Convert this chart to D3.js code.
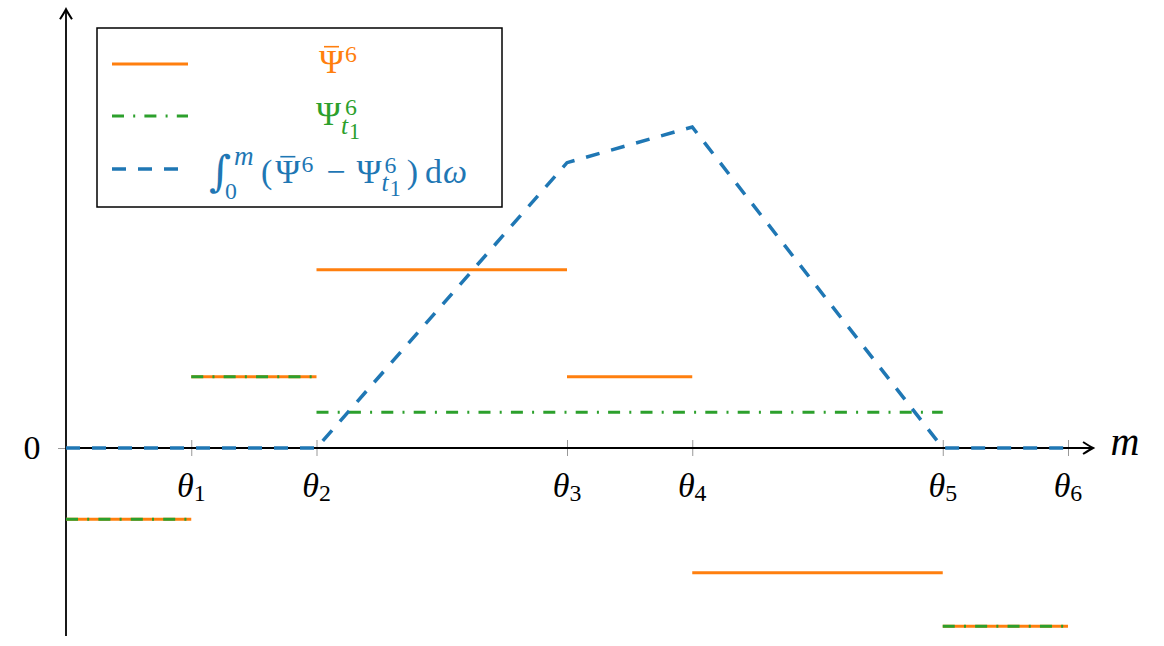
<!DOCTYPE html>
<html>
<head>
<meta charset="utf-8">
<script src="https://cdn.jsdelivr.net/npm/d3@7"></script>
<style>
  body { margin: 0; background: #fff; }
  svg { display: block; }
</style>
</head>
<body>
<div id="chart"></div>
<script>
// step functions (one level per interval between breaks)
var psiBarBreaks = [0, 1, 2, 4, 5, 7, 8];
var psiBar = [-2, 2, 5, 2, -3.5, -5];
var psiT1Breaks = [0, 1, 2, 7, 8];
var psiT1 = [-2, 2, 1, -5];
// integral of the difference
var intX = [0, 1, 2, 4, 5, 7, 8];
var intY = [0, 0, 0, 8, 9, 0, 0];
// ticks
var thetaPos = [1, 2, 4, 5, 7, 8];
var thetaIdx = ["1", "2", "3", "4", "5", "6"];
var yTicks = [0];

var colors = { bar: "#ff7f0e", t1: "#2ca02c", integral: "#1f77b4" };
var FONT = "Liberation Serif";
var FS = 34;
var dashDot = "12,9.2,2,9.2";
var dashed = "14,12";

var w = 1164, h = 646;
var svg = d3.select("#chart").append("svg")
  .attr("width", w)
  .attr("height", h);

//SCALES
var x = d3.scaleLinear().domain([0, 8]).range([66, 1068]);
var y = d3.scaleLinear().domain([0, 9]).range([448, 127]);
var xEnd = 8.2, yTop = 12.3, yBottom = -5.27;

// math-ish text built from tspans, centred on cx with baseline by
function mathLabel(parent, cx, by, pieces, color, size) {
  var g = parent.append("g");
  var t = g.append("text")
    .attr("x", 0).attr("y", 0)
    .attr("fill", color)
    .attr("font-family", FONT)
    .attr("font-size", size);
  var cur = 0, prev = null, idx = 0, bars = [];
  pieces.forEach(function(p) {
    var up = p.up || 0;
    var s = t.append("tspan").text(p.t)
      .attr("font-size", (p.s || 1) * size)
      .attr("font-style", p.i ? "italic" : "normal")
      .attr("dy", cur - up);
    if (p.f) s.attr("font-family", p.f);
    cur = up;
    var dx = p.dx || 0;
    if (p.back && prev) dx -= prev.node().getComputedTextLength();
    if (dx) s.attr("dx", dx);
    if (p.bar) bars.push(idx);
    idx += p.t.length;
    prev = s;
  });
  // bars over letters (macron)
  bars.forEach(function(i) {
    var e = t.node().getExtentOfChar(i);
    g.append("line")
      .attr("x1", e.x + e.width * 0.2).attr("x2", e.x + e.width * 0.8)
      .attr("y1", e.y + e.height * 0.1).attr("y2", e.y + e.height * 0.1)
      .attr("stroke", color).attr("stroke-width", 1.6);
  });
  var bb = g.node().getBBox();
  g.attr("transform", "translate(" + (cx - bb.x - bb.width / 2) + "," + by + ")");
  return g;
}

//AXES
var xAxis = d3.axisBottom(x).tickValues(thetaPos).tickSize(8).tickFormat("");
var gx = svg.append("g")
  .attr("transform", "translate(0," + y(0) + ")")
  .call(xAxis);
gx.select(".domain").remove();
gx.selectAll(".tick line").attr("y1", -8).attr("y2", 8)
  .attr("stroke", "#999").attr("stroke-width", 1);

var yAxis = d3.axisLeft(y).tickValues(yTicks).tickSize(8).tickFormat("");
var gy = svg.append("g")
  .attr("transform", "translate(" + x(0) + ",0)")
  .call(yAxis);
gy.select(".domain").remove();
gy.selectAll(".tick line").attr("stroke", "#999").attr("stroke-width", 1);

// axis lines with arrows
svg.append("line")
  .attr("x1", x(0)).attr("x2", x(xEnd) - 1)
  .attr("y1", y(0)).attr("y2", y(0))
  .attr("stroke", "black").attr("stroke-width", 1.8);
svg.append("line")
  .attr("x1", x(0)).attr("x2", x(0))
  .attr("y1", y(yBottom)).attr("y2", y(yTop) + 1)
  .attr("stroke", "black").attr("stroke-width", 1.8);

var arrow = "M-10,-6 Q-3,-1.5 0,0 Q-3,1.5 -10,6";
svg.append("path").attr("d", arrow)
  .attr("transform", "translate(" + x(xEnd) + "," + y(0) + ")")
  .attr("fill", "none").attr("stroke", "black").attr("stroke-width", 2);
svg.append("path").attr("d", arrow)
  .attr("transform", "translate(" + x(0) + "," + y(yTop) + ") rotate(-90)")
  .attr("fill", "none").attr("stroke", "black").attr("stroke-width", 2);

// tick labels
thetaPos.forEach(function(v, i) {
  mathLabel(svg, x(v), 497, [
    { t: "\u03b8", i: true },
    { t: thetaIdx[i], s: 0.7, up: -4 }
  ], "black", FS);
});
yTicks.forEach(function(v) {
  mathLabel(svg, 32, y(v) + 11, [{ t: String(v) }], "black", FS);
});
mathLabel(svg, 1125, 455, [{ t: "m", i: true }], "black", 40);

//STEP SEGMENTS
function segments(breaks, vals) {
  return vals.map(function(v, i) { return { x0: breaks[i], x1: breaks[i + 1], v: v }; });
}

svg.append("g").selectAll("line")
  .data(segments(psiBarBreaks, psiBar))
  .enter().append("line")
  .attr("x1", function(d) { return x(d.x0); })
  .attr("x2", function(d) { return x(d.x1); })
  .attr("y1", function(d) { return y(d.v); })
  .attr("y2", function(d) { return y(d.v); })
  .attr("stroke", colors.bar)
  .attr("stroke-width", 3);

svg.append("g").selectAll("line")
  .data(segments(psiT1Breaks, psiT1))
  .enter().append("line")
  .attr("x1", function(d) { return x(d.x0); })
  .attr("x2", function(d) { return x(d.x1); })
  .attr("y1", function(d) { return y(d.v); })
  .attr("y2", function(d) { return y(d.v); })
  .attr("stroke", colors.t1)
  .attr("stroke-width", 3)
  .attr("stroke-dasharray", dashDot);

// integral line
var line = d3.line()
  .x(function(d) { return x(d[0]); })
  .y(function(d) { return y(d[1]); });
svg.append("path")
  .datum(intX.map(function(v, i) { return [v, intY[i]]; }))
  .attr("d", line)
  .attr("fill", "none")
  .attr("stroke", colors.integral)
  .attr("stroke-width", 3.5)
  .attr("stroke-dasharray", dashed);

//LEGEND
var lg = svg.append("g");
lg.append("rect")
  .attr("x", 97).attr("y", 28)
  .attr("width", 405).attr("height", 179)
  .attr("fill", "white")
  .attr("stroke", "black").attr("stroke-width", 1.5);

var legendRows = [
  { y: 64, color: colors.bar, dash: null, base: 73,
    pieces: [{ t: "\u03a8", bar: true }, { t: "6", s: 0.7, up: 11, dx: 1 }] },
  { y: 116, color: colors.t1, dash: dashDot, base: 125,
    pieces: [{ t: "\u03a8" }, { t: "6", s: 0.7, up: 10, dx: 4 },
             { t: "t", s: 0.75, up: -9, i: true, back: true, dx: -4 },
             { t: "1", s: 0.65, up: -14, dx: 1 }] },
  { y: 169, color: colors.integral, dash: dashed, base: 183,
    pieces: [{ t: "\u222b", s: 1.25, up: -3, f: "DejaVu Serif" },
             { t: "m", s: 0.8, up: 18, i: true, dx: 3 },
             { t: "0", s: 0.7, up: -16, back: true, dx: -9 },
             { t: "(", dx: 24 }, { t: "\u03a8", bar: true, dx: 3 }, { t: "6", s: 0.7, up: 11, dx: 1 },
             { t: "\u2212", dx: 13 }, { t: "\u03a8", dx: 11 }, { t: "6", s: 0.7, up: 10, dx: 3 },
             { t: "t", s: 0.75, up: -8, i: true, back: true, dx: -3 },
             { t: "1", s: 0.65, up: -13, dx: 1 },
             { t: ")", dx: 6 }, { t: "d", dx: 7 }, { t: "\u03c9", i: true, dx: 1 }] }
];

legendRows.forEach(function(r) {
  lg.append("line")
    .attr("x1", 112).attr("x2", 188)
    .attr("y1", r.y).attr("y2", r.y)
    .attr("stroke", r.color)
    .attr("stroke-width", r.dash === dashed ? 3.5 : 3)
    .attr("stroke-dasharray", r.dash);
  mathLabel(lg, 338, r.base, r.pieces, r.color, FS);
});
</script>
</body>
</html>
